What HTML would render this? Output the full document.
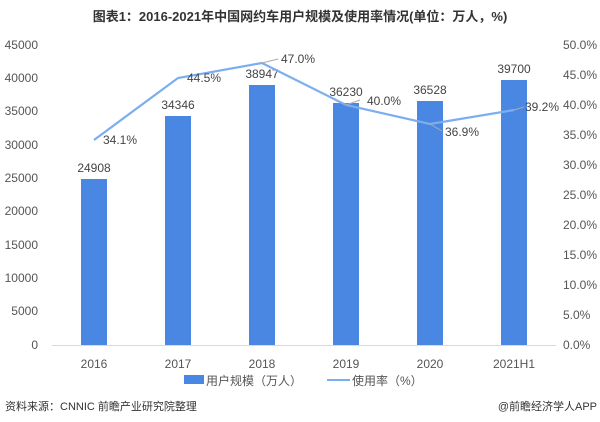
<!DOCTYPE html>
<html><head><meta charset="utf-8"><style>
body{margin:0;background:#fff;}
svg{display:block;font-family:"Liberation Sans","Noto Sans CJK SC",sans-serif;}
</style></head><body>
<svg width="600" height="422" viewBox="0 0 600 422">
<text x="300" y="21" text-anchor="middle" font-size="13" font-weight="bold" fill="#333">图表1：2016-2021年中国网约车用户规模及使用率情况(单位：万人，%)</text>
<g font-size="12" fill="#555" text-anchor="end">
<text x="38" y="49">45000</text><text x="38" y="82">40000</text><text x="38" y="115">35000</text><text x="38" y="149">30000</text><text x="38" y="182">25000</text><text x="38" y="215">20000</text><text x="38" y="249">15000</text><text x="38" y="282">10000</text><text x="38" y="315">5000</text><text x="38" y="349">0</text>
</g>
<g font-size="12" fill="#555" text-anchor="start">
<text x="563" y="49">50.0%</text><text x="563" y="79">45.0%</text><text x="563" y="109">40.0%</text><text x="563" y="139">35.0%</text><text x="563" y="169">30.0%</text><text x="563" y="199">25.0%</text><text x="563" y="229">20.0%</text><text x="563" y="259">15.0%</text><text x="563" y="289">10.0%</text><text x="563" y="319">5.0%</text><text x="563" y="349">0.0%</text>
</g>
<line x1="52" y1="345.5" x2="556" y2="345.5" stroke="#d9d9d9"/>
<g fill="#4a87e2">
<rect x="81" y="179" width="26" height="166"/>
<rect x="165" y="116" width="26" height="229"/>
<rect x="249" y="85" width="26" height="260"/>
<rect x="333" y="103" width="26" height="242"/>
<rect x="417" y="101" width="26" height="244"/>
<rect x="501" y="80" width="26" height="265"/>
</g>
<g font-size="12" fill="#444" text-anchor="middle">
<text x="94" y="172">24908</text><text x="178" y="109">34346</text><text x="262" y="78">38947</text><text x="346" y="96">36230</text><text x="430" y="94">36528</text><text x="514" y="73">39700</text>
</g>
<polyline points="94,140 178,78 262,63 346,105 430,124 514,110" fill="none" stroke="#7aaef0" stroke-width="2.2"/>
<g stroke="#aaa" fill="none">
<polyline points="262,63 278,59"/>
<polyline points="346,105 360,100"/>
<polyline points="430,124 442,131"/>
<polyline points="514,110 524,107"/>
</g>
<g font-size="12" fill="#444">
<text x="103" y="144">34.1%</text><text x="187" y="82">44.5%</text><text x="281" y="63">47.0%</text><text x="367" y="105">40.0%</text><text x="445" y="136">36.9%</text><text x="525" y="111">39.2%</text>
</g>
<g font-size="12" fill="#555" text-anchor="middle">
<text x="94" y="368">2016</text><text x="178" y="368">2017</text><text x="262" y="368">2018</text><text x="346" y="368">2019</text><text x="430" y="368">2020</text><text x="514" y="368">2021H1</text>
</g>
<rect x="184" y="375" width="20" height="9" fill="#4a87e2"/>
<text x="206" y="385" font-size="12" fill="#555">用户规模（万人）</text>
<line x1="327" y1="380" x2="350" y2="380" stroke="#7aaef0" stroke-width="2"/>
<text x="352" y="385" font-size="12" fill="#555">使用率（%）</text>
<text x="5" y="410" font-size="11" fill="#333">资料来源：CNNIC 前瞻产业研究院整理</text>
<text x="597" y="410" font-size="11" fill="#333" text-anchor="end">@前瞻经济学人APP</text>
</svg>
</body></html>
